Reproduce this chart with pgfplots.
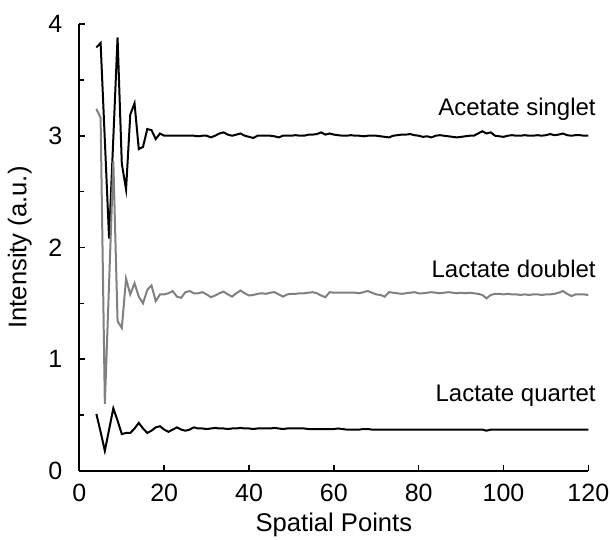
\documentclass[border=0pt]{standalone}
\usepackage{fontspec}
\setmainfont{Liberation Sans}
\usepackage{pgfplots}
\usepackage{pgfplotstable}
\pgfplotsset{compat=1.18}
\pgfplotstableread{
x A D Q
4 3.79 3.24 0.51
5 3.83 3.16 0.35
6 2.96 0.60 0.18
7 2.08 1.68 0.37
8 2.98 2.77 0.56
9 3.88 1.34 0.45
10 2.75 1.28 0.33
11 2.52 1.72 0.34
12 3.19 1.58 0.34
13 3.29 1.68 0.38
14 2.88 1.56 0.43
15 2.90 1.50 0.38
16 3.06 1.62 0.34
17 3.05 1.66 0.36
18 2.97 1.52 0.39
19 3.02 1.58 0.40
20 3.00 1.58 0.37
21 3.00 1.59 0.35
22 3.00 1.61 0.37
23 3.00 1.56 0.39
24 3.00 1.55 0.37
25 3.00 1.60 0.36
26 3.00 1.61 0.37
27 3.00 1.59 0.39
28 2.995 1.59 0.38
29 3.00 1.60 0.38
30 3.00 1.58 0.375
31 2.985 1.555 0.38
32 3.00 1.57 0.385
33 3.02 1.59 0.38
34 3.03 1.605 0.38
35 3.01 1.58 0.375
36 3.00 1.56 0.38
37 3.01 1.59 0.38
38 3.02 1.615 0.385
39 3.00 1.59 0.38
40 2.99 1.57 0.38
41 2.98 1.575 0.375
42 3.00 1.585 0.38
43 3.00 1.59 0.38
44 3.00 1.585 0.38
45 3.00 1.595 0.38
46 2.995 1.60 0.385
47 2.985 1.58 0.38
48 3.00 1.56 0.375
49 3.00 1.58 0.38
50 3.00 1.585 0.38
51 3.005 1.585 0.38
52 3.00 1.59 0.38
53 3.00 1.59 0.38
54 3.01 1.595 0.375
55 3.01 1.60 0.375
56 3.015 1.59 0.375
57 3.03 1.57 0.375
58 3.01 1.555 0.375
59 3.02 1.60 0.375
60 3.01 1.595 0.375
61 3.005 1.595 0.38
62 3.00 1.595 0.375
63 3.00 1.595 0.37
64 3.005 1.595 0.37
65 3.00 1.595 0.37
66 3.00 1.59 0.37
67 2.995 1.60 0.375
68 3.00 1.61 0.375
69 3.00 1.595 0.37
70 3.00 1.58 0.37
71 2.995 1.575 0.37
72 2.99 1.56 0.37
73 2.985 1.60 0.37
74 3.00 1.595 0.37
75 3.005 1.59 0.37
76 3.01 1.585 0.37
77 3.01 1.59 0.37
78 3.015 1.595 0.37
79 3.005 1.60 0.37
80 3.00 1.59 0.37
81 2.99 1.59 0.37
82 2.995 1.595 0.37
83 2.985 1.60 0.37
84 3.00 1.595 0.37
85 3.005 1.59 0.37
86 3.00 1.595 0.37
87 2.995 1.60 0.37
88 2.99 1.595 0.37
89 2.985 1.59 0.37
90 2.99 1.595 0.37
91 2.995 1.59 0.37
92 3.00 1.595 0.37
93 3.00 1.59 0.37
94 3.02 1.585 0.37
95 3.04 1.575 0.37
96 3.02 1.545 0.36
97 3.03 1.575 0.37
98 3.00 1.585 0.37
99 2.995 1.585 0.37
100 2.99 1.58 0.37
101 3.00 1.585 0.37
102 3.005 1.58 0.37
103 3.00 1.58 0.37
104 3.00 1.575 0.37
105 3.005 1.58 0.37
106 3.00 1.575 0.37
107 3.00 1.58 0.37
108 3.005 1.58 0.37
109 3.00 1.575 0.37
110 3.005 1.58 0.37
111 3.015 1.58 0.37
112 3.005 1.585 0.37
113 3.01 1.595 0.37
114 3.02 1.61 0.37
115 3.005 1.585 0.37
116 3.00 1.565 0.37
117 3.005 1.58 0.37
118 3.005 1.58 0.37
119 3.00 1.58 0.37
120 3.00 1.575 0.37
}\datatable
\begin{document}
\begin{tikzpicture}
\begin{axis}[
  scale only axis,
  width=254.5pt, height=223.5pt,
  xmin=0, xmax=120, ymin=0, ymax=4,
  axis x line*=bottom, axis y line*=left,
  axis line style={line width=1pt},
  xtick={0,20,...,120},
  ytick={0,1,2,3,4},
  minor ytick={0.5,1.5,2.5,3.5},
  tick align=inside,
  major tick length=3pt,
  minor tick length=2.5pt,
  tick style={line width=0.8pt, black},
  ticklabel style={font=\fontsize{12.5}{14}\selectfont},
  /pgf/number format/assume math mode=true,
  yticklabel style={xshift=-5pt},
  xticklabel style={yshift=-3pt},
  xlabel={Spatial Points},
  ylabel={Intensity (a.u.)},
  label style={font=\fontsize{12.8}{14}\selectfont},
  xlabel style={yshift=1pt},
  ylabel style={yshift=1.5pt},
  clip=false,
]
\addplot[black, line width=1pt] table[x=x, y=A] {\datatable};
\addplot[black!50, line width=1pt] table[x=x, y=D] {\datatable};
\addplot[black, line width=1pt] table[x=x, y=Q] {\datatable};
\node[anchor=base east, font=\fontsize{12}{14}\selectfont] at (axis cs:123.4,3.18) {Acetate singlet};
\node[anchor=base east, font=\fontsize{12}{14}\selectfont] at (axis cs:123.4,1.735) {Lactate doublet};
\node[anchor=base east, font=\fontsize{12}{14}\selectfont] at (axis cs:123.4,0.625) {Lactate quartet};
\coordinate (bbl) at (rel axis cs:-0.156,-0.154);
\coordinate (btr) at (rel axis cs:1.0426,1.0537);
\end{axis}
\pgfresetboundingbox
\path[use as bounding box] (bbl) rectangle (btr);
\end{tikzpicture}
\end{document}
